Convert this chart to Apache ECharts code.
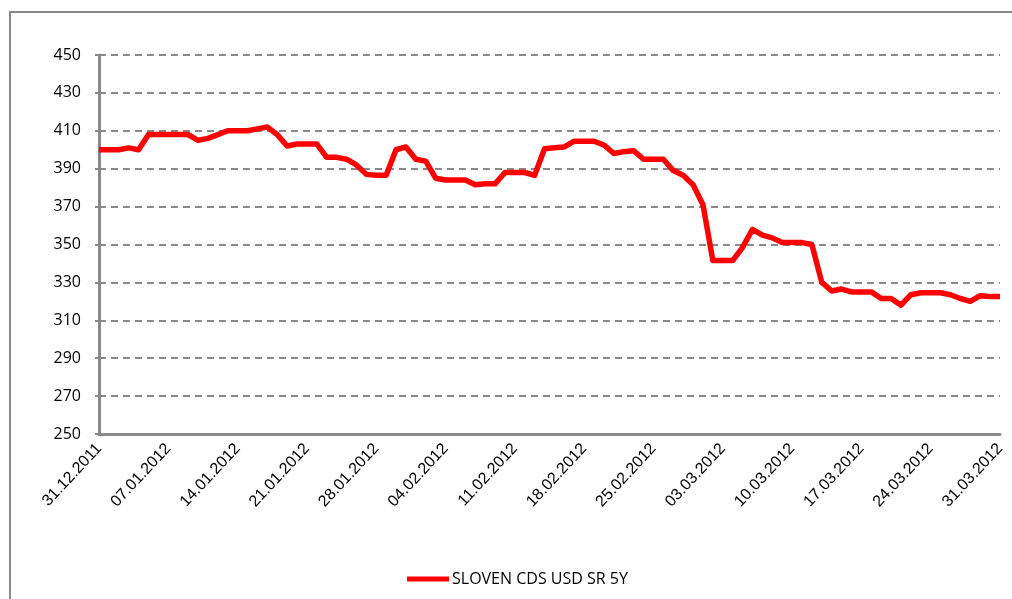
<!DOCTYPE html>
<html>
<head>
<meta charset="utf-8">
<script src="https://cdn.jsdelivr.net/npm/echarts@6/dist/echarts.min.js"></script>
<style>
  html, body { margin: 0; padding: 0; background: #fff; }
</style>
</head>
<body>
<div id="cds" style="width: 1012px; height: 599px"></div>
<script>
// 日期（每天一个点，31.12.2011 - 31.03.2012）
const startDate = new Date(2011, 11, 31);
const dayCount = 92;
const dates = [];
for (let i = 0; i < dayCount; i++) {
  const d = new Date(startDate.getTime() + i * 24 * 60 * 60 * 1000);
  const dd = String(d.getDate()).padStart(2, '0');
  const mm = String(d.getMonth() + 1).padStart(2, '0');
  dates.push(dd + '.' + mm + '.' + d.getFullYear());
}

// SLOVEN CDS USD SR 5Y
const cdsValues = [
  400, 400, 400, 401, 400, 408, 408, 408, 408, 408,
  405, 406, 408, 410, 410, 410, 411, 412, 408, 402,
  403, 403, 403, 396, 396, 395, 392, 387, 386.5, 386.5,
  400, 401.5, 395, 394, 385, 384, 384, 384, 381.5, 382,
  382, 388, 388, 388, 386.5, 400.5, 401, 401.5, 404.5, 404.5,
  404.5, 402.5, 398, 399, 399.5, 395, 395, 395, 389, 386.5,
  381.5, 371, 341.5, 341.5, 341.5, 348.5, 358, 355, 353.5, 351,
  351, 351, 350, 330, 325.5, 326.5, 325, 325, 325, 321.5,
  321.5, 318, 323.5, 324.5, 324.5, 324.5, 323.5, 321.5, 320, 323,
  322.5, 322.5
];

const seriesName = 'SLOVEN CDS USD SR 5Y';

const chart = echarts.init(document.getElementById('cds'));
const option = {
  animation: false,
  textStyle: { fontFamily: 'Open Sans' },
  graphic: [
    {
      type: 'rect',
      shape: { x: 10, y: 12, width: 1010, height: 600 },
      style: { fill: 'none', stroke: '#888', lineWidth: 2 },
      silent: true
    }
  ],
  legend: {
    bottom: 7,
    left: 402,
    icon: 'rect',
    itemWidth: 42,
    itemHeight: 5,
    itemGap: 4,
    textStyle: { fontSize: 16, color: '#000', fontFamily: 'Open Sans', padding: [0, 0, 0, -2] },
    data: [seriesName]
  },
  grid: {
    left: 99,
    right: 12,
    top: 55,
    bottom: 165
  },
  xAxis: {
    type: 'category',
    data: dates,
    boundaryGap: false,
    axisLine: { lineStyle: { color: '#888', width: 3 } },
    axisTick: { show: false },
    axisLabel: {
      interval: 6,
      rotate: 47,
      fontSize: 16,
      color: '#000',
      margin: 12,
      fontFamily: 'Liberation Sans'
    },
    splitLine: { show: false }
  },
  yAxis: {
    type: 'value',
    min: 250,
    max: 450,
    interval: 20,
    axisLine: { show: true, lineStyle: { color: '#888', width: 3 } },
    axisTick: { show: true, length: 4, lineStyle: { color: '#888', width: 2 } },
    axisLabel: { fontSize: 16, color: '#000', margin: 18 },
    splitLine: {
      lineStyle: { color: '#888', width: 2, type: [7, 5] }
    }
  },
  series: [
    {
      name: seriesName,
      type: 'line',
      data: cdsValues,
      showSymbol: false,
      symbol: 'none',
      color: '#ff0000',
      lineStyle: { width: 5.5, color: '#ff0000', join: 'round' }
    }
  ]
};
chart.setOption(option);
</script>
</body>
</html>
